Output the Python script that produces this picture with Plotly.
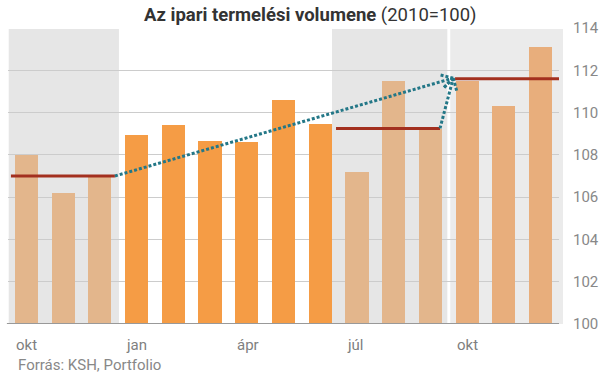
import math
import plotly.graph_objects as go

# ---- data ----
months = ["okt", "nov", "dec", "jan", "feb", "márc", "ápr", "máj", "jún",
          "júl", "aug", "szept", "okt", "nov", "dec"]
values = [108.0, 106.2, 107.0, 108.95, 109.4, 108.65, 108.6, 110.6, 109.45,
          107.2, 111.5, 109.2, 111.5, 110.3, 113.1]
bar_groups = ["prev", "prev", "prev", "cur", "cur", "cur", "cur", "cur", "cur",
              "q3", "q3", "q3", "q4", "q4", "q4"]
label_idx = [0, 3, 6, 9, 12]
label_text = ["okt", "jan", "ápr", "júl", "okt"]
quarter_avg = [107.0, 109.25, 111.6]
quarter_span = [(-0.42, 2.41), (8.43, 11.26), (11.67, 14.5)]
bands = [(-0.48, 2.52, "#E6E6E6"), (8.32, 11.46, "#E6E6E6"), (11.54, 14.61, "#EBEBEB")]
y_ticks = [100, 102, 104, 106, 108, 110, 112, 114]

colors = {"prev": "#E3B68C", "cur": "#F59C45", "q3": "#E3B68C", "q4": "#E8AE7C"}
X_MIN, X_MAX, Y_MIN, Y_MAX = -0.5, 14.5, 100, 114
OFF = 0  # page body margin removed via post_script
W, H = 609 - OFF, 379 - OFF
ML, MT = 8 - OFF, 28 - OFF
PR, PB = 559 - OFF, 324 - OFF  # plot right / bottom in figure px
MR, MB = W - PR, H - PB
PW, PH = PR - ML, PB - MT
pxx = PW / (X_MAX - X_MIN)
pxy = PH / (Y_MAX - Y_MIN)


def py(pix_y):
    """page pixel y -> paper y"""
    return (PB - (pix_y - OFF)) / PH


def px(pix_x):
    return ((pix_x - OFF) - ML) / PW


xs = list(range(len(values)))
fig = go.Figure()
fig.add_trace(go.Bar(x=xs, y=values, width=0.63,
                     marker=dict(color=[colors[g] for g in bar_groups], line=dict(width=0)),
                     showlegend=False, hoverinfo="skip"))

# quarterly average lines
for (x0, x1), v in zip(quarter_span, quarter_avg):
    fig.add_trace(go.Scatter(x=[x0, x1], y=[v, v], mode="lines",
                             line=dict(color="#A3301F", width=3),
                             showlegend=False, hoverinfo="skip"))

# dotted arrows
TEAL = "#237787"
tip = (11.62, 111.63)
starts = [(quarter_span[0][1], quarter_avg[0]), (quarter_span[1][1], quarter_avg[1])]
for (sx, sy) in starts:
    fig.add_trace(go.Scatter(x=[sx, tip[0]], y=[sy, tip[1]], mode="lines",
                             line=dict(color=TEAL, width=3, dash="3px,2px"),
                             showlegend=False, hoverinfo="skip"))
    dx = (tip[0] - sx) * pxx
    dy = (tip[1] - sy) * pxy
    L = math.hypot(dx, dy)
    ux, uy = -dx / L, -dy / L
    for ang in (math.radians(30), math.radians(-30)):
        rx = ux * math.cos(ang) - uy * math.sin(ang)
        ry = ux * math.sin(ang) + uy * math.cos(ang)
        ex = tip[0] + rx * 13 / pxx
        ey = tip[1] + ry * 13 / pxy
        fig.add_trace(go.Scatter(x=[tip[0], ex], y=[tip[1], ey], mode="lines",
                                 line=dict(color=TEAL, width=3, dash="3px,2px"),
                                 showlegend=False, hoverinfo="skip"))

shapes = []
for x0, x1, c in bands:
    shapes.append(dict(type="rect", xref="paper", yref="y",
                       x0=(x0 - X_MIN) / (X_MAX - X_MIN), x1=(x1 - X_MIN) / (X_MAX - X_MIN),
                       y0=Y_MIN, y1=113.95, fillcolor=c, line=dict(width=0), layer="below"))
shapes.append(dict(type="line", xref="paper", yref="y", x0=-0.002, x1=1, y0=100, y1=100,
                   line=dict(color="#999999", width=2), layer="above"))

annotations = [
    dict(text="<b>Az ipari termelési volumene</b> (2010=100)", xref="paper", yref="paper",
         x=px(310), y=py(15), xanchor="center", yanchor="middle",
         showarrow=False, font=dict(family="Roboto", size=18.5, color="#333333")),
    dict(text="Forrás: KSH, Portfolio", xref="paper", yref="paper",
         x=px(16), y=py(365), xanchor="left", yanchor="middle",
         showarrow=False, font=dict(family="Roboto", size=15, color="#888888")),
]
for i, t in zip(label_idx, label_text):
    annotations.append(dict(text=t, xref="x", yref="paper", x=i - 0.33,
                            y=py(345), xanchor="left", yanchor="middle",
                            showarrow=False, font=dict(family="Roboto", size=15, color="#808080")))

fig.update_layout(
    width=W, height=H, margin=dict(l=ML, r=MR, t=MT, b=MB, pad=0, autoexpand=False),
    paper_bgcolor="white", plot_bgcolor="rgba(0,0,0,0)",
    bargap=0, shapes=shapes, annotations=annotations,
    font=dict(family="Roboto"),
    xaxis=dict(range=[X_MIN, X_MAX], showticklabels=False, showgrid=False,
               zeroline=False, fixedrange=True),
    yaxis=dict(range=[Y_MIN, Y_MAX], side="right", tickvals=y_ticks,
               showgrid=True, gridcolor="#CCCCCC", gridwidth=1, zeroline=False,
               ticks="", ticklabelstandoff=13,
               tickfont=dict(family="Roboto", size=15, color="#888888"), fixedrange=True),
)
fig.write_html("out.html",
               config={"displayModeBar": False, "staticPlot": True},
               post_script="document.body.style.margin='0px';document.body.style.overflow='hidden';")
